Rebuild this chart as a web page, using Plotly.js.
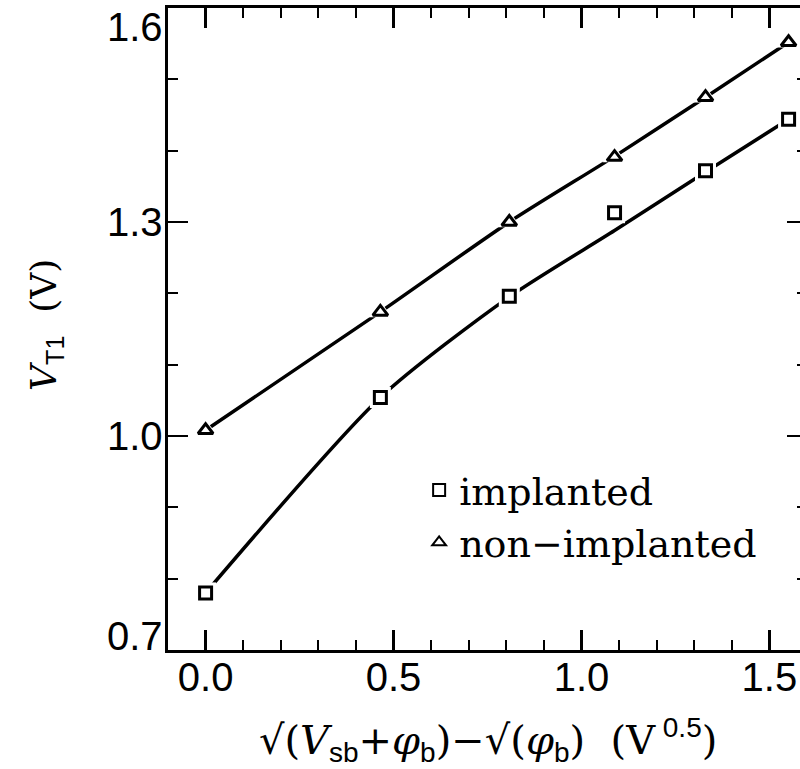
<!DOCTYPE html>
<html>
<head>
<meta charset="utf-8">
<script src="https://cdn.plot.ly/plotly-3.0.1.min.js"></script>
<style>
html,body{margin:0;padding:0;overflow:hidden;background:#fff;}
#chart{width:815px;height:769px;}
</style>
</head>
<body>
<div id="chart"></div>
<script>
// ---- data ----
const xVals = [0.0, 0.465, 0.808, 1.088, 1.33, 1.551];
const implanted = [0.780, 1.054, 1.196, 1.313, 1.372, 1.444];
const nonImplanted = [1.008, 1.174, 1.300, 1.391, 1.475, 1.552];
const implantedFit = [0.780, 1.054, 1.195, 1.288, 1.370, 1.444];
const nonImplantedFit = [1.008, 1.174, 1.300, 1.392, 1.475, 1.552];
const seriesNames = ['implanted', 'non\u2212implanted'];
const xTickVals = [0.0, 0.5, 1.0, 1.5];
const xTickText = ['0.0', '0.5', '1.0', '1.5'];
const yTickVals = [0.7, 1.0, 1.3, 1.6];
const yTickText = ['0.7', '1.0', '1.3', '1.6'];

const xRange = [-0.1, 1.6];
const yRange = [0.7, 1.6];

const black = '#000';
const sans = 'Liberation Sans';
const serif = 'DejaVu Serif';
const tickFont = {family: sans, size: 40, color: black};

function lineTrace(y) {
  return {x: xVals, y: y, mode: 'lines', line: {color: black, width: 3.5, shape: 'spline', smoothing: 0.7},
          showlegend: false, hoverinfo: 'skip'};
}
function haloTrace(y, symbol) {
  return {x: xVals, y: y, mode: 'markers', marker: {symbol: symbol, size: 21, color: '#fff', line: {width: 0}},
          showlegend: false, hoverinfo: 'skip'};
}
function markTrace(y, symbol, size) {
  return {x: xVals, y: y, mode: 'markers', marker: {symbol: symbol, size: size, color: '#fff', line: {color: black, width: 3}},
          showlegend: false};
}
function legendTrace(name, symbol, size) {
  return {x: [null], y: [null], mode: 'markers', name: name,
          marker: {symbol: symbol, size: size, color: '#fff', line: {color: black, width: 2}}, showlegend: true};
}

const traces = [
  lineTrace(implantedFit),
  lineTrace(nonImplantedFit),
  haloTrace(implanted, 'square'),
  haloTrace(nonImplanted, 'triangle-up'),
  markTrace(implanted, 'square', 12),
  markTrace(nonImplanted, 'triangle-up', 13),
  legendTrace(seriesNames[0], 'square', 12),
  legendTrace(seriesNames[1], 'triangle-up', 12)
];

const annotations = [];
yTickVals.forEach(function(v, i) {
  let shift = 0;
  if (i === yTickVals.length - 1) shift = -19;
  if (i === 0) shift = 14;
  annotations.push({xref: 'paper', yref: 'y', x: 0, y: v, xanchor: 'right', yanchor: 'middle',
    xshift: -3, yshift: shift, text: yTickText[i], showarrow: false, font: tickFont});
});
const sub = function(t) { return '<sub><span style="font-family:' + sans + '">' + t + '</span></sub>'; };
// y axis title
annotations.push({xref: 'paper', yref: 'paper', x: 0, y: 0.5, xanchor: 'center', yanchor: 'middle',
  xshift: -122, yshift: 4, textangle: -90, showarrow: false,
  font: {family: serif, size: 36, color: black},
  text: '<i>V</i>' + sub('T1') + '  (V)'});
// x axis title
annotations.push({xref: 'paper', yref: 'paper', x: 0.5, y: 0, xanchor: 'center', yanchor: 'middle',
  xshift: 0, yshift: -90, showarrow: false,
  font: {family: serif, size: 40, color: black},
  text: '\u221A(<i>V</i>' + sub('sb') + '+<i>\u03C6</i>' + sub('b') + ')\u2212\u221A(<i>\u03C6</i>' + sub('b') +
        ')  (V<sup><span style="font-family:' + sans + '"> 0.5</span></sup>)'});

const axisCommon = {
  showgrid: false, zeroline: false, showline: true, linecolor: black, linewidth: 3,
  mirror: 'allticks', ticks: 'inside', ticklen: 20, tickwidth: 2.5, tickcolor: black,
  fixedrange: true
};

const layout = {
  width: 815, height: 769,
  margin: {l: 168, r: 8, t: 8, b: 119},
  paper_bgcolor: '#fff', plot_bgcolor: '#fff',
  xaxis: Object.assign({}, axisCommon, {
    range: xRange, tickmode: 'array', tickvals: xTickVals, ticktext: xTickText,
    tickfont: tickFont, ticklabelstandoff: -10,
    minor: {dtick: 0.1, tick0: 0, ticks: 'inside', ticklen: 10, tickwidth: 2, tickcolor: black}
  }),
  yaxis: Object.assign({}, axisCommon, {
    range: yRange, tickmode: 'array', tickvals: yTickVals, showticklabels: false,
    minor: {dtick: 0.1, tick0: 0.7, ticks: 'inside', ticklen: 10, tickwidth: 2, tickcolor: black}
  }),
  showlegend: true,
  legend: {x: 0.393, y: 0.298, xanchor: 'left', yanchor: 'top', bgcolor: 'rgba(0,0,0,0)',
           font: {family: serif, size: 38, color: black}, tracegroupgap: 0, traceorder: 'normal'},
  annotations: annotations
};

Plotly.newPlot('chart', traces, layout, {staticPlot: true});
</script>
</body>
</html>
